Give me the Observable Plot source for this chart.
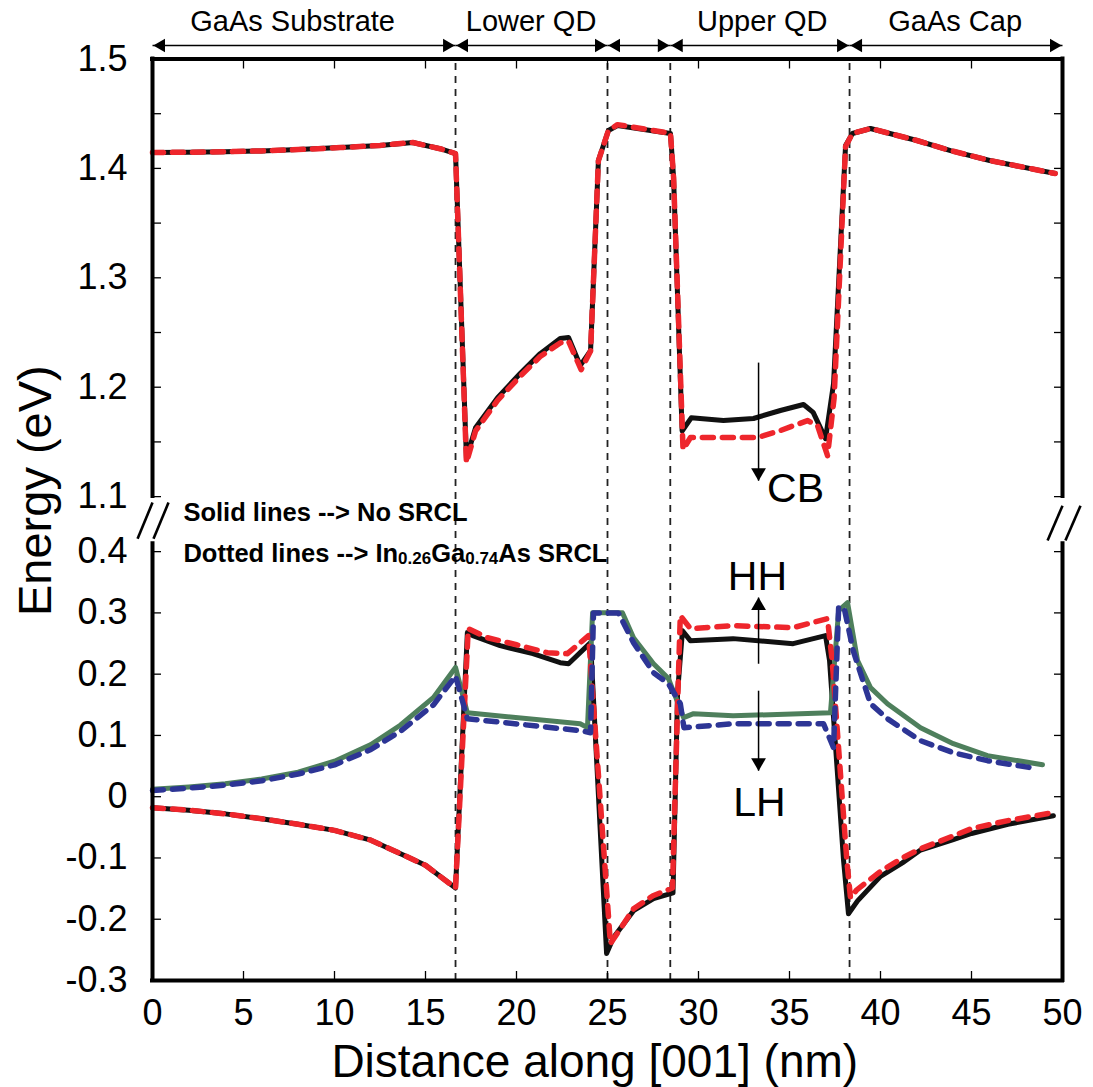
<!DOCTYPE html>
<html><head><meta charset="utf-8">
<script src="https://cdn.jsdelivr.net/npm/d3@7"></script>
<script src="https://cdn.jsdelivr.net/npm/@observablehq/plot@0.6"></script>
<style>body{margin:0;background:#fff}#chart{width:1093px;height:1087px}</style>
</head><body><div id="chart"></div>
<script>
// ---- data (x in nm, energy in eV) ----
const cbSolid = [[0,1.4145],[2,1.4148],[4,1.4152],[6,1.416],[8,1.4172],[10.3,1.419],[12.5,1.421],[14.3,1.4237],[15.8,1.418],[16.65,1.4136],[17.25,1.135],[17.75,1.163],[18.96,1.1905],[20.2,1.2125],[21.3,1.2307],[22.4,1.2445],[22.86,1.2454],[23.5,1.2198],[24.07,1.2335],[24.5,1.4072],[25.05,1.4346],[25.55,1.4392],[28.46,1.4319],[28.63,1.3917],[29.1,1.16],[29.6,1.172],[31.37,1.1695],[33.02,1.1714],[34.5,1.1787],[35.77,1.1842],[36.3,1.177],[36.98,1.153],[37.42,1.2033],[38.08,1.4209],[38.46,1.4319],[39.45,1.4365],[42,1.4255],[43.85,1.4163],[46,1.4072],[49.6,1.3953]];
const cbDashed = [[0,1.4145],[2,1.4148],[4,1.4152],[6,1.416],[8,1.4172],[10.3,1.419],[12.5,1.421],[14.3,1.4237],[15.8,1.418],[16.65,1.4136],[17.25,1.131],[17.75,1.16],[18.96,1.188],[20.2,1.21],[21.3,1.228],[22.4,1.2405],[22.86,1.242],[23.55,1.216],[24.07,1.233],[24.5,1.407],[25.05,1.4346],[25.55,1.44],[28.46,1.432],[28.63,1.392],[29.15,1.143],[29.56,1.154],[31.6,1.154],[33.24,1.154],[34.5,1.1604],[35.99,1.1695],[36.54,1.165],[37.09,1.1375],[37.45,1.19],[38.08,1.42],[38.46,1.432],[39.45,1.4365],[42,1.4255],[43.85,1.4163],[46,1.4072],[49.6,1.3953]];
const hhSolid = [[0,-0.018],[2,-0.022],[4,-0.028],[6,-0.036],[8,-0.045],[10,-0.055],[12,-0.071],[13.63,-0.093],[15,-0.112],[16.65,-0.149],[17.3,0.268],[17.6,0.263],[19.1,0.2465],[20.9,0.2335],[22.4,0.2188],[22.86,0.2171],[24.07,0.2514],[24.95,-0.256],[25.33,-0.23],[26.43,-0.186],[27.53,-0.1665],[28.6,-0.157],[28.85,0.17],[29.12,0.271],[29.55,0.2547],[31.9,0.258],[35.2,0.2498],[36.98,0.263],[37.2,0.222],[37.97,-0.104],[38.24,-0.191],[38.74,-0.17],[40,-0.13],[41.2,-0.108],[42.2,-0.087],[44,-0.07],[45,-0.06],[47,-0.045],[49.5,-0.031]];
const hhDashed = [[0,-0.018],[2,-0.022],[4,-0.028],[6,-0.036],[8,-0.045],[10,-0.055],[12,-0.071],[13.63,-0.093],[15,-0.112],[16.65,-0.149],[17.35,0.2743],[18.4,0.2596],[20,0.248],[21.7,0.235],[22.8,0.2335],[23.96,0.2629],[25.16,-0.24],[26.43,-0.183],[27.5,-0.1616],[28.57,-0.149],[28.9,0.2],[29.0,0.2955],[29.56,0.2743],[31.9,0.2792],[35.2,0.2759],[37.09,0.2906],[37.35,0.22],[38.15,-0.104],[38.35,-0.165],[38.7,-0.152],[40,-0.122],[41.2,-0.1],[42.2,-0.085],[44,-0.064],[45,-0.052],[47,-0.039],[49.5,-0.026]];
const lhSolid = [[0,0.012],[2,0.016],[4,0.021],[6,0.029],[8,0.04],[10,0.058],[12,0.085],[13.63,0.117],[15.44,0.162],[16.65,0.211],[17.3,0.137],[23.5,0.119],[23.9,0.1127],[24.18,0.3004],[25.82,0.3004],[26.43,0.2596],[27.53,0.2171],[28.35,0.1927],[29.18,0.129],[29.73,0.1355],[31.9,0.132],[37.25,0.137],[37.7,0.3037],[38.19,0.3167],[38.74,0.222],[39.45,0.178],[40.38,0.1518],[42.2,0.1127],[44,0.0865],[45.88,0.067],[48.9,0.0522]];
const lhDashed = [[0,0.01],[2,0.014],[4,0.019],[6,0.026],[8,0.037],[10,0.052],[12,0.077],[13.63,0.107],[15.44,0.15],[16.65,0.197],[17.3,0.1273],[23.5,0.1078],[24.07,0.1045],[24.23,0.3],[25.6,0.3],[26.43,0.2514],[27.53,0.2024],[28.35,0.1845],[29.0,0.1518],[29.2,0.1127],[31.9,0.119],[36.87,0.119],[37.42,0.08],[37.7,0.3086],[38.0,0.3086],[38.5,0.2384],[39.45,0.1518],[40.38,0.1273],[42.2,0.0914],[44,0.0718],[45.88,0.0588],[48.6,0.0457]];

const xTicks = [0,5,10,15,20,25,30,35,40,45,50];
const topTicks = [1.1,1.15,1.2,1.25,1.3,1.35,1.4,1.45,1.5];
const topTickLabels = ["1.1","","1.2","","1.3","","1.4","","1.5"];
const bottomTicks = [-0.3,-0.2,-0.1,0,0.1,0.2,0.3,0.4];
const bottomTickLabels = ["-0.3","-0.2","-0.1","0","0.1","0.2","0.3","0.4"];

const layerBounds = [16.65, 25, 28.45, 38.3];
const regionEdges = [0, 16.65, 25, 28.45, 38.3, 50];
const regionNames = ["GaAs Substrate", "Lower QD", "", "Upper QD", "GaAs Cap"];
const regionLabelX = [7.7, 20.8, 26.7, 33.5, 44.1];

const bandLabels = [{x:35.33, e:1.1073, text:"CB"},{x:33.24, e:0.3592, text:"HH"},{x:33.35, e:-0.0098, text:"LH"}];
const bandArrows = [{x:33.3, from:1.2225, to:1.1146, dir:"down"},{x:33.3, from:0.217, to:0.325, dir:"up"},{x:33.3, from:0.173, to:0.0425, dir:"down"}];
const legendLines = [{x:1.7, v:0.4637, text:"Solid lines --> No SRCL"},{x:1.7, v:0.3967, text:"Dotted lines --> In0.26Ga0.74As SRCL"}];
const breakMarks = [{x1:-0.82,v1:0.4212,x2:0,v2:0.48},{x1:0.055,v1:0.4212,x2:0.88,v2:0.48},{x1:49.18,v1:0.418,x2:50,v2:0.475},{x1:50.16,v1:0.418,x2:50.99,v2:0.475}];

// ---- broken axis: map energies to a continuous "virtual" coordinate ----
const PX_BOTTOM = 612.5, PX_TOP = 1093.75, GAP_PX = 55;
const yv = e => e > 0.75 ? 0.4 + GAP_PX / PX_BOTTOM + (e - 1.1) * PX_TOP / PX_BOTTOM : e;
const rows = arr => arr.map(([x, e]) => ({x, y: yv(e)}));
const Y_TOP = yv(1.5), Y_BOT = -0.3;

const yTickV = [...bottomTicks, ...topTicks].map(yv);
const yLabelMap = new Map([...bottomTicks.map((t,i)=>[yv(t).toFixed(5), bottomTickLabels[i]]), ...topTicks.map((t,i)=>[yv(t).toFixed(5), topTickLabels[i]])]);
const yLabelTicks = yTickV.filter(v => yLabelMap.get(v.toFixed(5)) !== "");

const segments = regionNames.map((n,i)=>({x1:regionEdges[i], x2:regionEdges[i+1], name:n, lx:regionLabelX[i]}));
const FONT = "'Liberation Sans', Arial, sans-serif";
const RED = "#ee262c", BLUE = "#2d3595", GREEN = "#4e7f5c", BLACK = "#111";

const plot = Plot.plot({
  width: 1093, height: 1087,
  marginLeft: 152, marginRight: 31, marginTop: 58.5, marginBottom: 107,
  style: {fontFamily: FONT, background: "white", color: "black", overflow: "visible"},
  x: {domain: [0, 50]},
  y: {domain: [Y_BOT, Y_TOP]},
  marks: [
    // layer boundaries
    Plot.ruleX(layerBounds, {x: d => d, y1: Y_BOT, y2: Y_TOP, stroke: "#222", strokeWidth: 1.8, strokeDasharray: "7,6"}),
    // solid curves
    Plot.line(rows(cbSolid), {x: "x", y: "y", stroke: BLACK, strokeWidth: 5, strokeLinejoin: "round"}),
    Plot.line(rows(hhSolid), {x: "x", y: "y", stroke: BLACK, strokeWidth: 5, strokeLinejoin: "round"}),
    Plot.line(rows(lhSolid), {x: "x", y: "y", stroke: GREEN, strokeWidth: 5, strokeLinejoin: "round"}),
    // dashed curves
    Plot.line(rows(cbDashed), {x: "x", y: "y", stroke: RED, strokeWidth: 5.5, strokeDasharray: "11,9"}),
    Plot.line(rows(hhDashed), {x: "x", y: "y", stroke: RED, strokeWidth: 5.5, strokeDasharray: "11,9"}),
    Plot.line(rows(lhDashed), {x: "x", y: "y", stroke: BLUE, strokeWidth: 5.5, strokeDasharray: "11,9"}),
    // frame
    Plot.ruleY([Y_TOP, Y_BOT], {y: d => d, x1: 0, x2: 50, stroke: "black", strokeWidth: 4, strokeLinecap: "square"}),
    Plot.ruleX([0, 50], {x: d => d, y1: yv(1.1), y2: Y_TOP, stroke: "black", strokeWidth: 4, strokeLinecap: "square"}),
    Plot.ruleX([0, 50], {x: d => d, y1: Y_BOT, y2: 0.413, stroke: "black", strokeWidth: 4, strokeLinecap: "square"}),
    // axes (inward ticks)
    Plot.axisX(xTicks, {anchor: "bottom", tickSize: -9, tickPadding: 28, fontSize: 36, label: null, strokeWidth: 1.3}),
    Plot.axisX(xTicks, {anchor: "top", tickSize: -9, fill: "none", label: null, strokeWidth: 1.3}),
    Plot.axisY(yTickV, {anchor: "left", tickSize: -9, fill: "none", label: null, strokeWidth: 1.3}),
    Plot.axisY(yLabelTicks, {anchor: "left", tickSize: 0, tickPadding: 25, fontSize: 36, label: null, tickFormat: v => yLabelMap.get(v.toFixed(5))}),
    Plot.axisY(yTickV, {anchor: "right", tickSize: -9, fill: "none", label: null, strokeWidth: 1.3}),
    // break marks
    Plot.link(breakMarks, {x1: "x1", y1: "v1", x2: "x2", y2: "v2", stroke: "black", strokeWidth: 2.6}),
    // axis titles
    Plot.text(["Energy (eV)"], {frameAnchor: "left", y: 0.4996, dx: -116.7, rotate: -90, textAnchor: "middle", lineAnchor: "middle", text: d => d, fontSize: 47}),
    Plot.text(["Distance along [001] (nm)"], {frameAnchor: "bottom", x: 24.3, dy: 82, textAnchor: "middle", lineAnchor: "middle", text: d => d, fontSize: 46}),
    // region arrows at top
    Plot.link(segments, {x1: "x1", x2: "x2", y1: Y_TOP, y2: Y_TOP, dy: -13.5, stroke: "black", strokeWidth: 1.6}),
    Plot.dot(segments, {x: "x1", y: Y_TOP, dy: -13.5, dx: 8.6, symbol: "triangle", r: 5, rotate: -90, fill: "black", stroke: "none"}),
    Plot.dot(segments, {x: "x2", y: Y_TOP, dy: -13.5, dx: -8.6, symbol: "triangle", r: 5, rotate: 90, fill: "black", stroke: "none"}),
    Plot.text(segments.filter(d => d.name), {x: "lx", y: Y_TOP, dy: -37, text: "name", fontSize: 29}),
    // band annotations
    Plot.link(bandArrows, {x1: "x", x2: "x", y1: d => yv(d.from), y2: d => yv(d.to), stroke: "black", strokeWidth: 1.5}),
    Plot.dot(bandArrows.filter(d => d.dir === "down"), {x: "x", y: d => yv(d.to), dy: -8.2, symbol: "triangle", r: 5.5, rotate: 180, fill: "black", stroke: "none"}),
    Plot.dot(bandArrows.filter(d => d.dir === "up"), {x: "x", y: d => yv(d.to), dy: 8.2, symbol: "triangle", r: 5.5, rotate: 0, fill: "black", stroke: "none"}),
    Plot.text(bandLabels, {x: "x", y: d => yv(d.e), text: "text", fontSize: 41}),
    // legend text
    Plot.text(legendLines, {x: "x", y: "v", text: "text", textAnchor: "start", fontSize: 25.5, fontWeight: "bold"})
  ]
});
document.getElementById("chart").appendChild(plot);

// subscripts in the SRCL composition
const dotted = legendLines[1].text;
d3.select(plot).selectAll("text").filter(function(){ return this.textContent === dotted; }).each(function(){
  const t = d3.select(this).text(null);
  const parts = [["Dotted lines --> In", false], ["0.26", true], ["Ga", false], ["0.74", true], ["As SRCL", false]];
  let low = false;
  for (const [s, sub] of parts) {
    const sp = t.append("tspan").text(s);
    if (sub && !low) { sp.attr("dy", 2).attr("font-size", 17); low = true; }
    else if (sub) { sp.attr("font-size", 17); }
    else if (!sub && low) { sp.attr("dy", -2); low = false; }
  }
});
</script></body></html>
